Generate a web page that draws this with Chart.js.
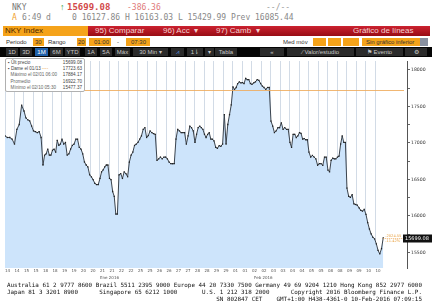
<!DOCTYPE html>
<html>
<head>
<meta charset="utf-8">
<title>NKY Index</title>
<script src="https://cdn.jsdelivr.net/npm/chart.js@4.4.1/dist/chart.umd.min.js"></script>
<style>
    body { margin: 0; width: 432px; height: 306px; overflow: hidden; background: #fff; position: relative; font-family: "Liberation Sans", Arial, sans-serif; }
    .t { position: absolute; white-space: pre; line-height: 1; }
    .mono { font-family: "DejaVu Sans Mono", monospace; }
    .box { position: absolute; }
    .org { background: #f5a31a; }
    .btn { position: absolute; top: 48px; height: 8px; background: #2b2b2b; color: #c8c8c8; font-size: 6px; line-height: 8px; text-align: center; }
    #chartBox { position: absolute; left: 0; top: 57px; width: 432px; height: 226px; }
    #legend { position: absolute; left: 5px; top: 58px; width: 80px; height: 34px; background: #fff; border: 1px solid #b0b0b0; border-radius: 2px; font-size: 4.6px; color: #444; z-index: 2; box-sizing: border-box; padding: 1px 2px; }
    #legend div { display: flex; justify-content: space-between; height: 6.2px; line-height: 6.2px; }
    .foot { position: absolute; left: 7px; font-family: "DejaVu Sans Mono", monospace; font-size: 5.9px; color: #111; white-space: pre; line-height: 1; }
</style>
</head>
<body>
<!-- header rows -->
<div class="t mono" style="left:12px;top:4px;font-size:8px;color:#777">NKY</div>
<div class="t" style="left:60px;top:3px;font-size:9px;color:#3aa040">↑</div>
<div class="t mono" style="left:67px;top:3px;font-size:9px;font-weight:bold;color:#d24a4a">15699.08</div>
<div class="t mono" style="left:127px;top:4px;font-size:8px;color:#e07a7a">-386.36</div>
<div class="t mono" style="left:266px;top:4px;font-size:8px;color:#999">--/--</div>
<div class="t mono" style="left:12px;top:14px;font-size:8px;color:#f0a030">A</div>
<div class="t mono" style="left:22px;top:14px;font-size:8px;color:#888">6:49 d</div>
<div class="t mono" style="left:72px;top:14px;font-size:8px;color:#888">0 16127.86 H 16163.03 L 15429.99 Prev 16085.44</div>

<div class="box org" style="left:3px;top:26px;width:85px;height:10px"></div>
<div class="t" style="left:5px;top:27px;font-size:8px;color:#4a2800">NKY Index</div>
<div class="box" style="left:88px;top:26px;width:342px;height:10px;background:linear-gradient(#cc2230,#980c14)"></div>
<div class="t" style="left:95px;top:27px;font-size:8px;color:#f4d0d0">95) Comparar</div>
<div class="t" style="left:163px;top:27px;font-size:8px;color:#f4d0d0">96) Acc  ▾</div>
<div class="t" style="left:216px;top:27px;font-size:8px;color:#f4d0d0">97) Camb  ▾</div>
<div class="t" style="left:353px;top:27px;font-size:8px;color:#f4d0d0">Gráfico de líneas</div>

<div class="t" style="left:6px;top:39px;font-size:6px;color:#333">Periodo</div>
<div class="box org" style="left:33px;top:38px;width:11px;height:8px"></div>
<div class="t" style="left:35px;top:39px;font-size:6px;color:#333">30</div>
<div class="t" style="left:48px;top:39px;font-size:6px;color:#333">Rango</div>
<div class="box org" style="left:77px;top:38px;width:9px;height:8px"></div>
<div class="t" style="left:78px;top:39px;font-size:6px;color:#333">20</div>
<div class="box org" style="left:89px;top:38px;width:22px;height:8px"></div>
<div class="t" style="left:94px;top:39px;font-size:6px;color:#333">01:00</div>
<div class="t" style="left:117px;top:39px;font-size:6px;color:#333">-</div>
<div class="box org" style="left:126px;top:38px;width:24px;height:8px"></div>
<div class="t" style="left:131px;top:39px;font-size:6px;color:#333">07:30</div>
<div class="t" style="left:283px;top:39px;font-size:6px;color:#333">Med móv</div>
<div class="box org" style="left:313px;top:38px;width:13px;height:8px"></div>
<div class="box org" style="left:328px;top:38px;width:13px;height:8px"></div>
<div class="box org" style="left:343px;top:38px;width:16px;height:8px"></div>
<div class="box org" style="left:362px;top:38px;width:58px;height:8px"></div>
<div class="t" style="left:366px;top:39px;font-size:6px;color:#333">Sin gráfico inferior</div>
<div class="box" style="left:420px;top:38px;width:8px;height:8px;background:#8890a0"></div>

<div class="box" style="left:0;top:47px;width:432px;height:10px;background:#050505"></div>
<div class="btn" style="left:6px;width:12px">1D</div>
<div class="btn" style="left:20px;width:12px">3D</div>
<div class="btn" style="left:35px;width:13px;background:#1f5fa8;color:#fff">1M</div>
<div class="btn" style="left:50px;width:13px">6M</div>
<div class="btn" style="left:65px;width:15px">YTD</div>
<div class="btn" style="left:85px;width:12px">1A</div>
<div class="btn" style="left:100px;width:12px">5A</div>
<div class="btn" style="left:115px;width:15px">Máx</div>
<div class="btn" style="left:133px;width:35px">30 Min ▾</div>
<div class="btn" style="left:171px;width:13px;color:#5a9ae0">⩘</div>
<div class="btn" style="left:187px;width:16px">1⇂</div>
<div class="btn" style="left:205px;width:9px">▾</div>
<div class="btn" style="left:215px;width:22px">Tabla</div>
<div class="btn" style="left:260px;width:24px">«</div>
<div class="btn" style="left:287px;width:67px">⁄  Valor/estudio</div>
<div class="btn" style="left:356px;width:47px">⚑  Evento</div>
<div class="btn" style="left:405px;width:22px">⚙</div>

<div id="chartBox"><canvas id="nkyChart" width="432" height="226"></canvas></div>

<div id="legend">
    <div><span>▪ Últ precio</span><span>15699.08</span></div>
    <div><span>▪ Dame el 01/13 <span style="color:#e8a040">----</span></span><span>17723.63</span></div>
    <div><span style="color:#666">&nbsp;&nbsp;Máximo el 02/01 06:00</span><span>17884.17</span></div>
    <div><span style="color:#666">&nbsp;&nbsp;Promedio</span><span>16922.70</span></div>
    <div><span style="color:#666">&nbsp;&nbsp;Mínimo el 02/10 05:30</span><span>15477.37</span></div>
</div>

<div class="foot" style="top:283px">Australia 61 2 9777 8600 Brazil 5511 2395 9000 Europe 44 20 7330 7500 Germany 49 69 9204 1210 Hong Kong 852 2977 6000</div>
<div class="foot" style="top:290px">Japan 81 3 3201 8900      Singapore 65 6212 1000       U.S. 1 212 318 2000      Copyright 2016 Bloomberg Finance L.P.</div>
<div class="foot" style="top:297px">                                                           SN 802847 CET    GMT+1:00 H438-4361-0 10-Feb-2016 07:09:15</div>

<script>
// trading days shown on the x axis (two ticks per day)
const dayLabels = ['14', '15', '18', '19', '20', '21', '22', '25', '26', '27', '28', '29',
                   '01', '02', '03', '04', '05', '08', '09', '10'];
const monthLabels = ['Ene 2016', 'Feb 2016'];

// 30 min closes, one row per trading day
const pricesJan = [
    [17095, 17073, 17073, 17050, 16983, 17184, 17251, 17516],
    [17436, 17341, 17315, 17301, 17230, 17163, 17153, 17140, 17153, 17073],
    [16696, 16831, 16848, 16915, 16831, 16831, 16898, 16915, 16871, 17032, 16965, 16983],
    [17050, 16983, 17005, 16831, 16848, 16915, 16965, 16983, 17050, 17050, 16938],
    [16915, 16848, 16737, 16696, 16669, 16562, 16535, 16495, 16445, 16428, 16428],
    [16512, 16602, 16629, 16669, 16696, 16696, 16512, 16495, 16333, 16266, 16024, 16024],
    [16562, 16579, 16512, 16602, 16579, 16535, 16737, 16831, 16871, 16965, 16983],
    [17005, 17050, 17095, 17184, 17207, 17073, 17100, 17163, 17140, 17126, 17117],
    [16760, 16781, 16804, 16781, 16804, 16804, 16781, 16737, 16714, 16714, 16714],
    [17050, 17184, 17163, 17140, 17140, 17140, 16983, 17095, 17230, 17207, 17163],
    [17005, 17117, 17207, 17230, 17207, 17184, 17117, 17073, 17117, 17140, 17050, 17050],
    [17028, 16938, 16925, 16961, 16952, 16983, 17386, 16983, 17251, 17386, 17520]
];
const pricesFeb = [
    [17767, 17731, 17758, 17812, 17835, 17821, 17825, 17812, 17884, 17866, 17866, 17812],
    [17802, 17821, 17835, 17866, 17856, 17812, 17776, 17758, 17731, 17758, 17758],
    [17297, 17230, 17140, 17163, 17207, 17207, 17274, 17184, 17207, 17184, 17184],
    [17005, 16938, 17117, 17117, 17073, 17095, 17140, 17130, 17050, 17059, 17042, 17042],
    [16871, 16804, 16827, 16804, 16781, 16692, 16714, 16714, 16692, 16804, 16804],
    [16625, 16602, 16760, 16790, 16781, 16781, 16804, 16817, 16983, 17095, 17005, 17005],
    [16378, 16266, 16253, 16289, 16163, 16155, 16145, 16109, 16074, 16065, 16087],
    [16020, 15907, 15819, 15751, 15706, 15684, 15617, 15527, 15477, 15550, 15699.08]
];

const refClose = 17723.63;
const lastPrice = 15699.08;

let nkyChart;

document.addEventListener('DOMContentLoaded', () => {
    initializeChart();
});

function buildPoints() {
    const days = pricesJan.concat(pricesFeb);
    const points = [];
    days.forEach((day, d) => {
        day.forEach((v, j) => points.push({ x: d + j / day.length, y: v }));
    });
    return points;
}

const overlayPlugin = {
    id: 'overlay',
    afterDatasetsDraw(chart) {
        const { ctx, chartArea, scales } = chart;
        const x = scales.x;
        const y = scales.y;
        ctx.save();

        // previous close reference
        const yRef = Math.round(y.getPixelForValue(refClose)) + 0.5;
        ctx.strokeStyle = 'rgba(238,170,90,0.85)';
        ctx.lineWidth = 1;
        ctx.beginPath();
        ctx.moveTo(chartArea.left, yRef);
        ctx.lineTo(chartArea.right - 3, yRef);
        ctx.stroke();

        // last price marker
        const pts = chart.getDatasetMeta(0).data;
        const last = pts[pts.length - 1];
        const yLast = Math.round(y.getPixelForValue(lastPrice)) + 0.5;
        ctx.setLineDash([1, 1]);
        ctx.beginPath();
        ctx.moveTo(last.x, yLast);
        ctx.lineTo(chartArea.right, yLast);
        ctx.stroke();
        ctx.setLineDash([]);

        ctx.fillStyle = '#e8a040';
        ctx.font = '3.6px "DejaVu Sans"';
        ctx.textBaseline = 'middle';
        ctx.fillText((lastPrice - refClose).toFixed(2), last.x + 2, yLast - 2);
        ctx.fillText(((lastPrice - refClose) / refClose * 100).toFixed(2) + '%', last.x + 2, yLast + 3);

        ctx.fillStyle = '#111';
        ctx.fillRect(chartArea.right - 4, yLast - 4, 30, 8);
        ctx.fillStyle = '#fff';
        ctx.font = '5px "DejaVu Sans"';
        ctx.fillText(lastPrice.toFixed(2), chartArea.right - 2, yLast);

        // month captions under the day ticks
        ctx.fillStyle = '#555';
        ctx.font = '4px "DejaVu Sans"';
        ctx.textAlign = 'center';
        ctx.fillText(monthLabels[0], x.getPixelForValue(5.5), chartArea.bottom + 10);
        ctx.fillText(monthLabels[1], x.getPixelForValue(13.6), chartArea.bottom + 10);
        ctx.restore();
    }
};

function initializeChart() {
    const ctx = document.getElementById('nkyChart').getContext('2d');
    nkyChart = new Chart(ctx, {
        type: 'line',
        data: {
            datasets: [{
                data: buildPoints(),
                borderColor: '#3a434d',
                borderWidth: 1,
                backgroundColor: '#cde4fb',
                fill: 'start',
                tension: 0,
                pointRadius: 0.9,
                pointStyle: 'rect',
                pointBackgroundColor: '#222',
                pointBorderWidth: 0
            }]
        },
        options: {
            responsive: false,
            animation: false,
            devicePixelRatio: 1,
            layout: { padding: { left: 5, right: 0, top: 0, bottom: 0 } },
            plugins: { legend: { display: false }, tooltip: { enabled: false } },
            scales: {
                x: {
                    type: 'linear',
                    min: 0,
                    max: 21.16,
                    z: 1,
                    afterBuildTicks: (scale) => {
                        scale.ticks = dayLabels.flatMap((_, d) => [{ value: d }, { value: d + 0.5 }]);
                    },
                    afterFit: (scale) => { scale.height = 15; },
                    ticks: {
                        autoSkip: false,
                        maxRotation: 0,
                        align: 'start',
                        padding: 1,
                        color: '#555',
                        font: { size: 4, family: 'DejaVu Sans' },
                        callback: (value) => dayLabels[Math.floor(value)]
                    },
                    grid: { color: 'rgba(95,125,165,0.28)', drawTicks: false },
                    border: { display: false }
                },
                y: {
                    position: 'right',
                    min: 15285,
                    max: 18121,
                    afterFit: (scale) => { scale.width = 25; },
                    ticks: {
                        stepSize: 250,
                        includeBounds: false,
                        padding: 1,
                        color: '#333',
                        font: { size: 4.6, family: 'DejaVu Sans' },
                        callback: (value) => value % 500 === 0 ? value : ''
                    },
                    grid: { drawOnChartArea: false, tickLength: 3, color: '#666' },
                    border: { display: true, color: '#555' }
                }
            }
        },
        plugins: [overlayPlugin]
    });
}
</script>
</body>
</html>
